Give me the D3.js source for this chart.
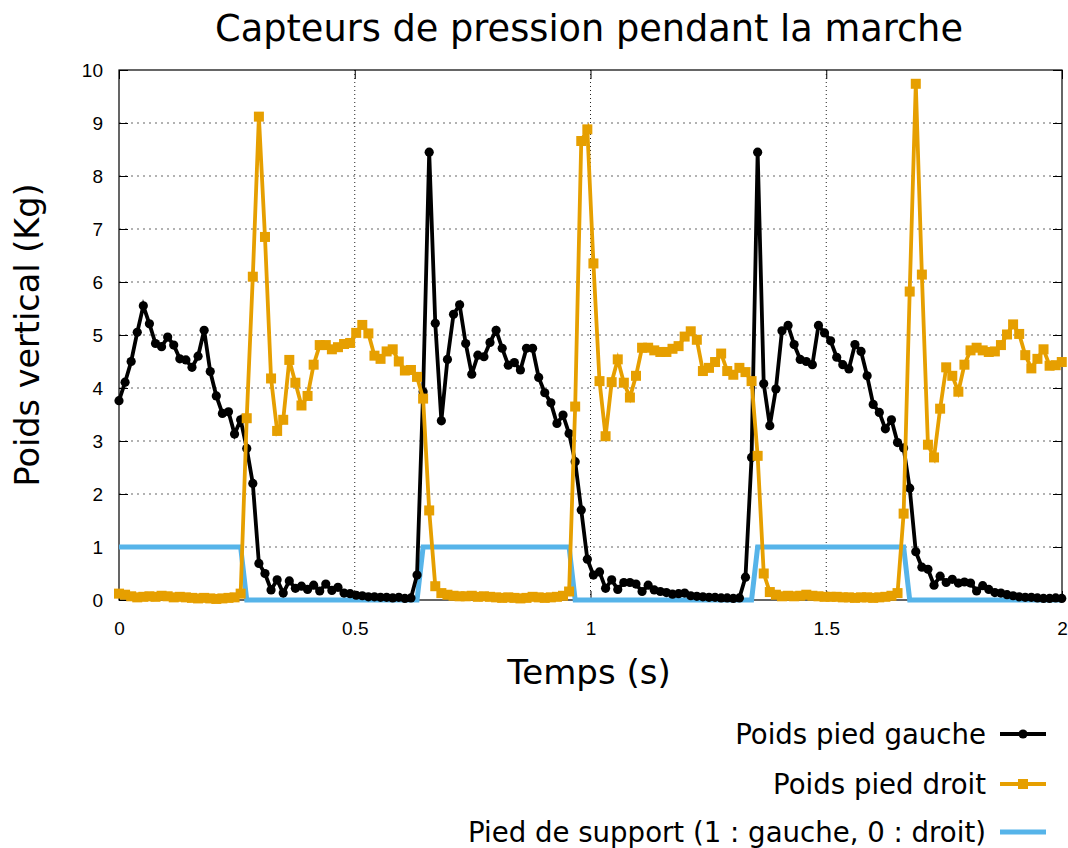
<!DOCTYPE html>
<html lang="fr">
<head>
<meta charset="UTF-8">
<title>Capteurs de pression pendant la marche</title>
<script src="https://cdn.jsdelivr.net/npm/d3@7"></script>
<style>
body{margin:0;background:#fff}
svg{display:block;font-family:"DejaVu Sans",sans-serif}
</style>
</head>
<body>
<script>
// pas d'echantillonnage (s)
var sampleStep = 0.0129;

var xTicks = [0, 0.5, 1, 1.5, 2];
var xTickLabels = ["0", "0.5", "1", "1.5", "2"];
var yTicks = [0, 1, 2, 3, 4, 5, 6, 7, 8, 9, 10];
var yTickLabels = ["0", "1", "2", "3", "4", "5", "6", "7", "8", "9", "10"];

var seriesNames = ["Poids pied gauche", "Poids pied droit", "Pied de support (1 : gauche, 0 : droit)"];

var piedGauche = [
  3.76, 4.11, 4.50, 5.05, 5.55, 5.21, 4.84, 4.78, 4.96, 4.81,
  4.55, 4.53, 4.39, 4.60, 5.09, 4.31, 3.85, 3.52, 3.55, 3.13,
  3.40, 2.86, 2.20, 0.69, 0.50, 0.19, 0.38, 0.13, 0.36, 0.22,
  0.26, 0.20, 0.28, 0.17, 0.30, 0.18, 0.24, 0.13, 0.12, 0.09,
  0.08, 0.06, 0.06, 0.05, 0.05, 0.04, 0.05, 0.03, 0.04, 0.47,
  3.93, 8.45, 5.22, 3.38, 4.54, 5.39, 5.57, 4.84, 4.26, 4.62,
  4.59, 4.86, 5.09, 4.75, 4.43, 4.48, 4.34, 4.75, 4.75, 4.20,
  3.91, 3.72, 3.33, 3.49, 3.14, 2.61, 1.70, 0.77, 0.47, 0.53,
  0.22, 0.38, 0.20, 0.33, 0.33, 0.30, 0.16, 0.28, 0.19, 0.16,
  0.14, 0.11, 0.12, 0.13, 0.08, 0.07, 0.06, 0.05, 0.05, 0.04,
  0.04, 0.03, 0.04, 0.43, 2.69, 8.45, 4.08, 3.29, 3.98, 5.08,
  5.18, 4.82, 4.54, 4.50, 4.44, 5.18, 5.04, 4.89, 4.58, 4.44,
  4.36, 4.82, 4.69, 4.23, 3.69, 3.54, 3.23, 3.40, 2.97, 2.87,
  2.11, 0.91, 0.62, 0.58, 0.28, 0.45, 0.33, 0.39, 0.32, 0.34,
  0.32, 0.17, 0.27, 0.20, 0.14, 0.13, 0.10, 0.08, 0.06, 0.05,
  0.05, 0.04, 0.03, 0.03, 0.04, 0.03
];

var piedDroit = [
  0.12, 0.10, 0.07, 0.05, 0.06, 0.07, 0.06, 0.08, 0.07, 0.05,
  0.06, 0.05, 0.04, 0.03, 0.04, 0.03, 0.02, 0.03, 0.04, 0.05,
  0.12, 3.43, 6.10, 9.12, 6.85, 4.18, 3.19, 3.40, 4.53, 4.10,
  3.67, 3.85, 4.44, 4.81, 4.81, 4.73, 4.77, 4.83, 4.85, 5.04,
  5.19, 5.03, 4.61, 4.55, 4.69, 4.73, 4.50, 4.33, 4.34, 4.21,
  3.80, 1.69, 0.26, 0.13, 0.10, 0.08, 0.07, 0.07, 0.08, 0.06,
  0.07, 0.06, 0.05, 0.04, 0.05, 0.04, 0.03, 0.04, 0.06, 0.05,
  0.04, 0.05, 0.06, 0.08, 0.16, 3.65, 8.66, 8.88, 6.35, 4.13,
  3.09, 4.11, 4.54, 4.10, 3.82, 4.23, 4.76, 4.76, 4.71, 4.68,
  4.68, 4.74, 4.79, 4.97, 5.07, 4.91, 4.32, 4.38, 4.49, 4.65,
  4.32, 4.25, 4.38, 4.30, 4.13, 2.72, 0.50, 0.15, 0.10, 0.07,
  0.08, 0.07, 0.08, 0.10, 0.08, 0.07, 0.06, 0.06, 0.06, 0.05,
  0.05, 0.04, 0.05, 0.05, 0.04, 0.05, 0.06, 0.08, 0.13, 1.63,
  5.82, 9.74, 6.14, 2.93, 2.69, 3.61, 4.39, 4.23, 3.93, 4.44,
  4.71, 4.76, 4.71, 4.68, 4.69, 4.81, 5.01, 5.20, 5.02, 4.62,
  4.37, 4.55, 4.73, 4.42, 4.43, 4.49
];

var piedSupport = [
  1, 1, 1, 1, 1, 1, 1, 1, 1, 1,
  1, 1, 1, 1, 1, 1, 1, 1, 1, 1,
  1, 0, 0, 0, 0, 0, 0, 0, 0, 0,
  0, 0, 0, 0, 0, 0, 0, 0, 0, 0,
  0, 0, 0, 0, 0, 0, 0, 0, 0, 0,
  1, 1, 1, 1, 1, 1, 1, 1, 1, 1,
  1, 1, 1, 1, 1, 1, 1, 1, 1, 1,
  1, 1, 1, 1, 1, 0, 0, 0, 0, 0,
  0, 0, 0, 0, 0, 0, 0, 0, 0, 0,
  0, 0, 0, 0, 0, 0, 0, 0, 0, 0,
  0, 0, 0, 0, 0, 1, 1, 1, 1, 1,
  1, 1, 1, 1, 1, 1, 1, 1, 1, 1,
  1, 1, 1, 1, 1, 1, 1, 1, 1, 1,
  0, 0, 0, 0, 0, 0, 0, 0, 0, 0,
  0, 0, 0, 0, 0, 0, 0, 0, 0, 0,
  0, 0, 0, 0, 0, 0
];

var width = 1068, height = 848;
var plotLeft = 119, plotRight = 1062, plotTop = 70, plotBottom = 600;

var svg = d3.select("body").append("svg").attr("width", width).attr("height", height);

var x = d3.scaleLinear().domain([0, 2]).range([plotLeft, plotRight]);
var y = d3.scaleLinear().domain([0, 10]).range([plotBottom, plotTop]);

// grille
svg.append("g").selectAll("line").data(yTicks.slice(1, -1)).enter().append("line")
  .attr("x1", plotLeft).attr("x2", plotRight)
  .attr("y1", function(d){ return y(d); }).attr("y2", function(d){ return y(d); })
  .attr("stroke", "#666").attr("stroke-width", 1.1).attr("stroke-dasharray", "2,4");
svg.append("g").selectAll("line").data(xTicks.slice(1, -1)).enter().append("line")
  .attr("y1", plotTop).attr("y2", plotBottom)
  .attr("x1", function(d){ return x(d); }).attr("x2", function(d){ return x(d); })
  .attr("stroke", "#222").attr("stroke-width", 1).attr("stroke-dasharray", "1,3");

// axes (graduations vers l'interieur)
function styleAxis(g){
  g.select(".domain").remove();
  g.selectAll(".tick line").attr("stroke", "#000");
  g.selectAll(".tick text").attr("fill", "#000").attr("font-size", 19);
}
svg.append("g").attr("transform", "translate(" + plotLeft + ",0)")
  .call(d3.axisLeft(y).tickValues(yTicks).tickFormat(function(d, i){ return yTickLabels[i]; })
    .tickSizeInner(-9).tickSizeOuter(0).tickPadding(16))
  .call(styleAxis);
svg.append("g").attr("transform", "translate(" + plotRight + ",0)")
  .call(d3.axisRight(y).tickValues(yTicks).tickFormat("").tickSizeInner(-9).tickSizeOuter(0))
  .call(styleAxis);
svg.append("g").attr("transform", "translate(0," + plotBottom + ")")
  .call(d3.axisBottom(x).tickValues(xTicks).tickFormat(function(d, i){ return xTickLabels[i]; })
    .tickSizeInner(-9).tickSizeOuter(0).tickPadding(22))
  .call(styleAxis);
svg.append("g").attr("transform", "translate(0," + plotTop + ")")
  .call(d3.axisTop(x).tickValues(xTicks).tickFormat("").tickSizeInner(-9).tickSizeOuter(0))
  .call(styleAxis);

svg.append("rect").attr("x", plotLeft).attr("y", plotTop)
  .attr("width", plotRight - plotLeft).attr("height", plotBottom - plotTop)
  .attr("fill", "none").attr("stroke", "#000").attr("stroke-width", 1.2);

var line = d3.line()
  .x(function(d, i){ return x(i * sampleStep); })
  .y(function(d){ return y(d); });

var plot = svg.append("g");

// pied de support
plot.append("path").datum(piedSupport).attr("d", line)
  .attr("fill", "none").attr("stroke", "#56B4E9").attr("stroke-width", 5);

// pied gauche
plot.append("path").datum(piedGauche).attr("d", line)
  .attr("fill", "none").attr("stroke", "#000").attr("stroke-width", 3.8);
plot.append("g").selectAll("circle").data(piedGauche).enter().append("circle")
  .attr("cx", function(d, i){ return x(i * sampleStep); })
  .attr("cy", function(d){ return y(d); })
  .attr("r", 4.6).attr("fill", "#000");

// pied droit
plot.append("path").datum(piedDroit).attr("d", line)
  .attr("fill", "none").attr("stroke", "#E69F00").attr("stroke-width", 3.8);
plot.append("g").selectAll("rect").data(piedDroit).enter().append("rect")
  .attr("x", function(d, i){ return x(i * sampleStep) - 5; })
  .attr("y", function(d){ return y(d) - 5; })
  .attr("width", 10).attr("height", 10).attr("fill", "#E69F00");

// titres
svg.append("text").attr("x", 589).attr("y", 41).attr("text-anchor", "middle")
  .attr("font-size", 36.7).text("Capteurs de pression pendant la marche");
svg.append("text").attr("x", 589).attr("y", 684).attr("text-anchor", "middle")
  .attr("font-size", 34).text("Temps (s)");
svg.append("text").attr("transform", "translate(39,335) rotate(-90)").attr("text-anchor", "middle")
  .attr("font-size", 33.5).text("Poids vertical (Kg)");

// legende
var legendY = [734, 784, 832];
var legend = svg.append("g");
legend.selectAll("text").data(seriesNames).enter().append("text")
  .attr("x", 986).attr("y", function(d, i){ return legendY[i]; })
  .attr("dy", "0.35em").attr("text-anchor", "end").attr("font-size", 27.6)
  .text(function(d){ return d; });
legend.append("line").attr("x1", 1000).attr("x2", 1046).attr("y1", legendY[0]).attr("y2", legendY[0])
  .attr("stroke", "#000").attr("stroke-width", 3.8);
legend.append("circle").attr("cx", 1023).attr("cy", legendY[0]).attr("r", 4.6).attr("fill", "#000");
legend.append("line").attr("x1", 1000).attr("x2", 1046).attr("y1", legendY[1]).attr("y2", legendY[1])
  .attr("stroke", "#E69F00").attr("stroke-width", 3.8);
legend.append("rect").attr("x", 1023 - 5).attr("y", legendY[1] - 5).attr("width", 10).attr("height", 10)
  .attr("fill", "#E69F00");
legend.append("line").attr("x1", 1000).attr("x2", 1046).attr("y1", legendY[2]).attr("y2", legendY[2])
  .attr("stroke", "#56B4E9").attr("stroke-width", 5);
</script>
</body>
</html>
